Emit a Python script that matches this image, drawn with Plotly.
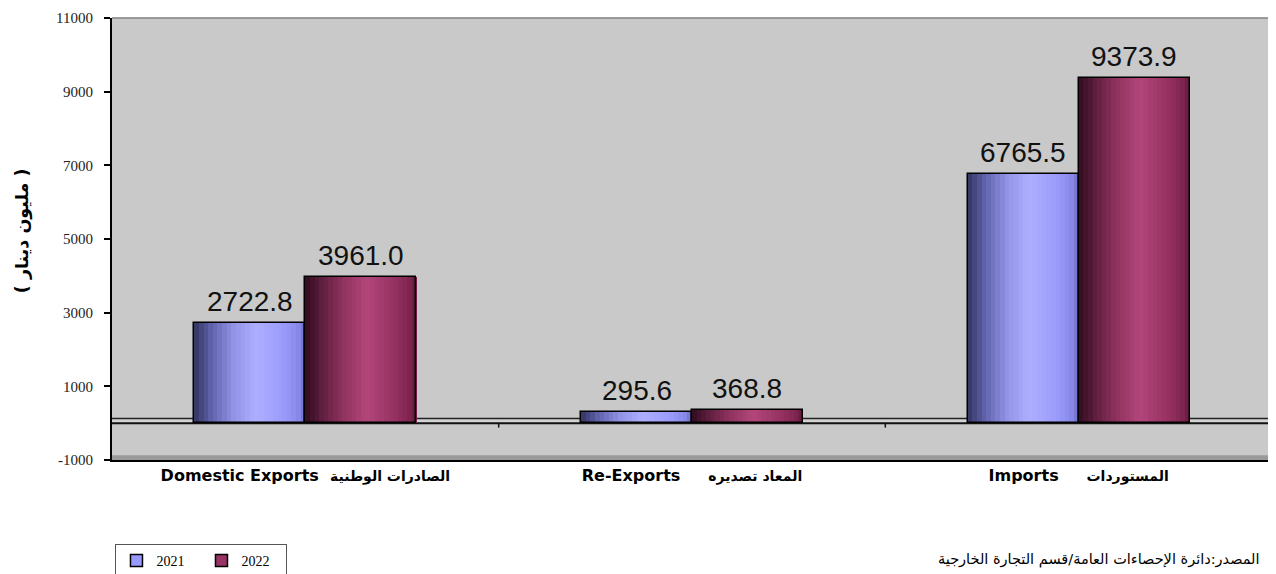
import plotly.graph_objects as go

categories_en = ["Domestic Exports", "Re-Exports", "Imports"]
categories_ar = ["الصادرات الوطنية", "المعاد تصديره", "المستوردات"]
category_gaps = [2, 5, 5]
years = ["2021", "2022"]
values_2021 = [2722.8, 295.6, 6765.5]
values_2022 = [3961.0, 368.8, 9373.9]
y_ticks = [-1000, 1000, 3000, 5000, 7000, 9000, 11000]
y_tick_text = ["-1000", "1000", "3000", "5000", "7000", "9000", "11000"]

BAR_W = 0.287
N = 24

def lerp_color(stops, t):
    for i in range(len(stops) - 1):
        t0, c0 = stops[i]
        t1, c1 = stops[i + 1]
        if t0 <= t <= t1:
            f = (t - t0) / (t1 - t0) if t1 > t0 else 0
            c = [round(c0[j] + (c1[j] - c0[j]) * f) for j in range(3)]
            return "rgb(%d,%d,%d)" % tuple(c)
    c = stops[-1][1]
    return "rgb(%d,%d,%d)" % tuple(c)

stops_2021 = [(0.0, (50, 52, 95)), (0.15, (95, 97, 170)), (0.35, (145, 145, 230)),
              (0.55, (174, 174, 255)), (0.8, (155, 155, 252)), (0.93, (138, 138, 235)),
              (1.0, (112, 112, 200))]
stops_2022 = [(0.0, (48, 12, 32)), (0.15, (95, 30, 62)), (0.35, (145, 52, 95)),
              (0.55, (178, 70, 122)), (0.8, (150, 50, 98)), (0.93, (128, 38, 80)),
              (1.0, (100, 28, 62))]

fig = go.Figure()
xs = list(range(len(categories_en)))

for vals, base, stops in [(values_2021, -BAR_W, stops_2021), (values_2022, 0.0, stops_2022)]:
    sw = BAR_W / N
    for k in range(N):
        t = (k + 0.5) / N
        fig.add_trace(go.Bar(
            x=xs, y=vals, width=sw * 1.08, offset=base + k * sw,
            marker=dict(color=lerp_color(stops, t), line=dict(width=0)),
            showlegend=False, hoverinfo="skip"))

# outlines
for vals, base in [(values_2021, -BAR_W), (values_2022, 0.0)]:
    fig.add_trace(go.Bar(
        x=xs, y=vals, width=BAR_W, offset=base,
        marker=dict(color="rgba(0,0,0,0)", line=dict(color="black", width=1.5)),
        showlegend=False, hoverinfo="skip"))

# legend traces
for name, col in [(years[0], "#9999FF"), (years[1], "#993366")]:
    fig.add_trace(go.Bar(x=[None], y=[None], name=name,
                         marker=dict(color=col, line=dict(color="black", width=1.5))))

annotations = []
for vals, cshift in [(values_2021, -BAR_W / 2), (values_2022, BAR_W / 2)]:
    for i, v in enumerate(vals):
        annotations.append(dict(
            x=i + cshift, y=v, xref="x", yref="y", text="%.1f" % v,
            showarrow=False, yanchor="bottom", yshift=4,
            font=dict(family="Liberation Sans, Arial", size=28, color="#111111")))

annotations.append(dict(
    x=-0.0776, y=0.52, xref="paper", yref="paper", text="<b>( مليون دينار )</b>",
    textangle=-90, showarrow=False, xanchor="center", yanchor="middle",
    font=dict(family="DejaVu Sans", size=17.5, color="black")))
annotations.append(dict(
    x=0.991, y=-0.226, xref="paper", yref="paper",
    text="المصدر:دائرة الإحصاءات العامة/قسم التجارة الخارجية",
    showarrow=False, xanchor="right", yanchor="middle",
    font=dict(family="DejaVu Sans", size=14.5, color="black")))

shapes = [
    dict(type="rect", xref="paper", yref="y", x0=0, x1=1, y0=0, y1=130,
         fillcolor="#D2D2D2", line=dict(width=0), layer="below"),
    dict(type="line", xref="paper", yref="y", x0=0, x1=1, y0=130, y1=130,
         line=dict(color="#222222", width=1.5), layer="below"),
    dict(type="line", xref="paper", yref="y", x0=0, x1=1, y0=0, y1=0,
         line=dict(color="#111111", width=2), layer="below"),
    dict(type="rect", xref="paper", yref="y", x0=0, x1=1, y0=-1000, y1=-870,
         fillcolor="#9A9A9A", line=dict(width=0), layer="below"),
    dict(type="line", xref="paper", yref="paper", x0=0, x1=1, y0=1, y1=1,
         line=dict(color="#808080", width=1.5)),
    dict(type="line", xref="paper", yref="paper", x0=1, x1=1, y0=0, y1=1,
         line=dict(color="#808080", width=1.5)),
]
for b in [0.5, 1.5]:
    shapes.append(dict(type="line", xref="x", yref="y", x0=b, x1=b, y0=0, y1=-120,
                       line=dict(color="#111111", width=1.5)))

tick_text = ["<b>%s%s<span style='font-size:14px'>%s</span></b>" % (en, "\u00a0" * g, ar)
             for en, ar, g in zip(categories_en, categories_ar, category_gaps)]

# the page body adds an 8px offset; the figure is sized to fit inside the window
fig.update_layout(
    width=1268, height=566,
    margin=dict(l=104, r=4, t=10, b=114, autoexpand=False),
    paper_bgcolor="white", plot_bgcolor="#C9C9C9",
    barmode="overlay", bargap=0,
    showlegend=True,
    legend=dict(orientation="h", x=0.003, y=-0.19, xanchor="left", yanchor="top",
                bordercolor="#555555", borderwidth=1, bgcolor="white",
                font=dict(family="Liberation Serif, Times New Roman", size=14, color="black"),
                entrywidth=40, itemwidth=30, traceorder="normal"),
    annotations=annotations,
    shapes=shapes,
)
fig.update_xaxes(
    tickvals=xs, ticktext=tick_text,
    range=[-0.5, 2.5], showgrid=False, zeroline=False, automargin=False,
    showline=True, linecolor="black", linewidth=2, ticks="",
    tickfont=dict(family="DejaVu Sans", size=16, color="black"))
fig.update_yaxes(
    range=[-1000, 11000], tickvals=y_ticks, ticktext=y_tick_text,
    showgrid=False, zeroline=False, automargin=False,
    showline=True, linecolor="black", linewidth=2,
    ticks="outside", ticklen=6, tickcolor="black", tickwidth=1.5,
    ticklabelstandoff=8,
    tickfont=dict(family="Liberation Serif, Times New Roman", size=15, color="#222222"))

fig.write_html("out.html")
